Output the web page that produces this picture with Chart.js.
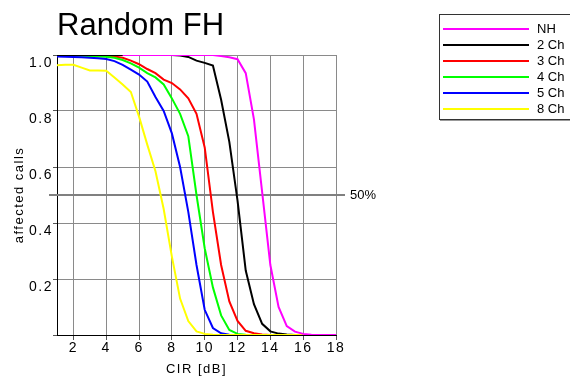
<!DOCTYPE html>
<html lang="en">
<head>
<meta charset="UTF-8">
<title>Random FH</title>
<script src="https://cdn.jsdelivr.net/npm/chart.js"></script>
<style>
  html, body { margin: 0; padding: 0; background: #fff; }
</style>
</head>
<body>
<canvas id="fhChart" width="570" height="377"></canvas>
<script>
// CIR values in dB (x axis)
const cir = [1, 1.5, 2, 2.5, 3, 3.5, 4, 4.5, 5, 5.5, 6, 6.5, 7, 7.5, 8, 8.5, 9, 9.5,
             10, 10.5, 11, 11.5, 12, 12.5, 13, 13.5, 14, 14.5, 15, 15.5, 16, 16.5, 17, 17.5, 18];

// share of affected calls, one list per series
const nh  = [null, null, null, null, null, null, null, null, 1, 1, 1, 1, 1, 1, 1, 1, 1, 1,
             1, 1, 0.996, 0.992, 0.985, 0.935, 0.77, 0.51, 0.25, 0.10, 0.032, 0.012, 0.004, 0.001, 0, 0, 0];
const ch2 = [1, 1, 1, 1, 1, 1, 1, 1, 1, 1, 1, 1, 1, 1, 1, 0.998, 0.993, 0.98,
             0.972, 0.962, 0.84, 0.69, 0.48, 0.23, 0.11, 0.04, 0.013, 0.005, 0.002, 0, 0, 0, 0, 0, 0];
const ch3 = [1, 1, 1, 1, 0.999, 0.999, 0.998, 0.995, 0.99, 0.98, 0.967, 0.95, 0.935, 0.912, 0.9, 0.877, 0.845, 0.79,
             0.67, 0.44, 0.25, 0.12, 0.05, 0.015, 0.006, 0.002, 0, 0, 0, 0, 0, 0, 0, 0, 0];
const ch4 = [0.998, 0.998, 0.997, 0.997, 0.996, 0.995, 0.994, 0.99, 0.982, 0.97, 0.955, 0.935, 0.92, 0.895, 0.845, 0.79, 0.71, 0.5,
             0.31, 0.17, 0.07, 0.018, 0.004, 0.001, 0, 0, 0, 0, 0, 0, 0, 0, 0, 0, 0];
const ch5 = [0.995, 0.994, 0.993, 0.992, 0.99, 0.988, 0.986, 0.978, 0.965, 0.948, 0.93, 0.905, 0.85, 0.8, 0.72, 0.6, 0.44, 0.25,
             0.09, 0.025, 0.006, 0.001, 0, 0, 0, 0, 0, 0, 0, 0, 0, 0, 0, 0, 0];
const ch8 = [0.963, 0.965, 0.965, 0.955, 0.945, 0.945, 0.944, 0.92, 0.895, 0.868, 0.78, 0.68, 0.585, 0.45, 0.28, 0.13, 0.05, 0.013,
             0.004, 0.001, 0, 0, 0, 0, 0, 0, 0, 0, 0, 0, 0, 0, 0, 0, 0];

const seriesNames  = ['NH', '2 Ch', '3 Ch', '4 Ch', '5 Ch', '8 Ch'];
const seriesValues = [nh, ch2, ch3, ch4, ch5, ch8];
const seriesColors = ['#ff00ff', '#000000', '#ff0000', '#00ff00', '#0000ff', '#ffff00'];
const drawOrder    = [0, 2, 5, 4, 3, 1];   // lower = drawn on top

const xTicks = [2, 4, 6, 8, 10, 12, 14, 16, 18];
const yTicks = [0, 0.2, 0.4, 0.6, 0.8, 1.0];
const refLevel = 0.5;
const refLabel = '50%';

const FONT = "'Liberation Sans', Arial, Helvetica, sans-serif";

const datasets = seriesNames.map((name, i) => ({
    label: name,
    data: cir.map((x, j) => ({ x: x, y: seriesValues[i][j] })),
    borderColor: seriesColors[i],
    borderWidth: 2,
    pointRadius: 0,
    tension: 0,
    fill: false,
    order: drawOrder[i]
}));

// extra bits: title, 50% line, legend box
const extras = {
    id: 'extras',
    beforeDraw(chart) {
        chart.ctx.letterSpacing = '1.5px';
    },
    beforeDatasetsDraw(chart) {
        const ctx = chart.ctx;
        const y = Math.round(chart.scales.y.getPixelForValue(refLevel));
        ctx.save();
        ctx.strokeStyle = '#808080';
        ctx.lineWidth = 2;
        ctx.beginPath();
        ctx.moveTo(chart.chartArea.left - 8, y);
        ctx.lineTo(chart.chartArea.right + 9, y);
        ctx.stroke();
        ctx.restore();
    },
    afterDraw(chart) {
        const ctx = chart.ctx;
        const area = chart.chartArea;
        ctx.save();
        ctx.letterSpacing = '0px';

        // title
        ctx.fillStyle = '#000';
        ctx.font = '31px ' + FONT;
        ctx.textAlign = 'left';
        ctx.textBaseline = 'alphabetic';
        ctx.fillText('Random FH', area.left, 35);

        // 50% label
        const y = chart.scales.y.getPixelForValue(refLevel);
        ctx.font = '13px ' + FONT;
        ctx.textBaseline = 'middle';
        ctx.fillText(refLabel, area.right + 14, y);

        // legend
        const bx = 439, by = 14, bw = 131, bh = 105;
        ctx.fillStyle = '#999';
        ctx.fillRect(bx + 1, by + bh, bw, 2);
        ctx.strokeStyle = '#333';
        ctx.lineWidth = 1;
        ctx.strokeRect(bx + 0.5, by + 0.5, bw, bh);
        ctx.font = '13px ' + FONT;
        seriesNames.forEach((name, i) => {
            const ly = 29 + i * 16;
            ctx.strokeStyle = seriesColors[i];
            ctx.lineWidth = 2;
            ctx.beginPath();
            ctx.moveTo(443, ly);
            ctx.lineTo(529, ly);
            ctx.stroke();
            ctx.fillStyle = '#000';
            ctx.fillText(name, 537, ly);
        });
        ctx.restore();
    }
};

new Chart(document.getElementById('fhChart'), {
    type: 'line',
    data: { datasets: datasets },
    options: {
        responsive: false,
        animation: false,
        devicePixelRatio: 1,
        layout: { padding: { top: 55, right: 234, left: 0, bottom: 0 } },
        plugins: {
            legend: { display: false },
            title: { display: false },
            tooltip: { enabled: false }
        },
        scales: {
            x: {
                type: 'linear',
                min: 1,
                max: 18,
                afterBuildTicks: scale => { scale.ticks = xTicks.map(v => ({ value: v })); },
                afterFit: scale => { scale.height = 42; },
                grid: { color: '#8a8a8a', tickColor: '#555', tickLength: 5 },
                border: { color: '#000', width: 1 },
                ticks: {
                    color: '#000',
                    padding: 0,
                    autoSkip: false,
                    maxRotation: 0,
                    font: { family: FONT, size: 14 },
                    callback: v => String(v)
                },
                title: {
                    display: true,
                    text: 'CIR [dB]',
                    color: '#000',
                    padding: { top: 0, bottom: 0 },
                    font: { family: FONT, size: 13 }
                }
            },
            y: {
                type: 'linear',
                min: 0,
                max: 1,
                afterBuildTicks: scale => { scale.ticks = yTicks.map(v => ({ value: v })); },
                afterFit: scale => { scale.width = 57; },
                grid: { color: '#8a8a8a', tickColor: '#555', tickLength: 4 },
                border: { color: '#000', width: 1 },
                ticks: {
                    color: '#000',
                    padding: 0,
                    labelOffset: 8,
                    font: { family: FONT, size: 14 },
                    callback: v => (v === 0 ? '' : v.toFixed(1))
                },
                title: {
                    display: true,
                    text: 'affected calls',
                    color: '#000',
                    padding: { top: 12, bottom: 0 },
                    font: { family: FONT, size: 13 }
                }
            }
        }
    },
    plugins: [extras]
});
</script>
</body>
</html>
